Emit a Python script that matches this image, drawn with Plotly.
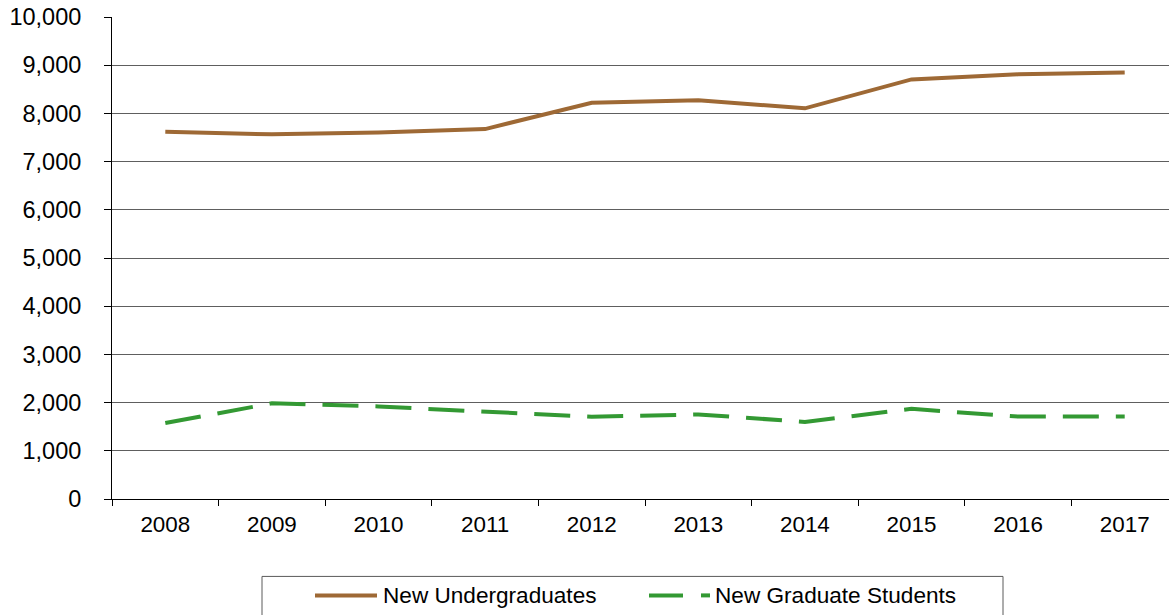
import plotly.graph_objects as go

# Fall enrollment of new students by year
years = ["2008", "2009", "2010", "2011", "2012", "2013", "2014", "2015", "2016", "2017"]
new_undergraduates = [7620, 7565, 7605, 7675, 8220, 8275, 8105, 8705, 8810, 8850]
new_graduate_students = [1575, 1985, 1920, 1810, 1705, 1755, 1600, 1870, 1710, 1710]

y_ticks = [0, 1000, 2000, 3000, 4000, 5000, 6000, 7000, 8000, 9000, 10000]
y_tick_labels = ["0", "1,000", "2,000", "3,000", "4,000", "5,000",
                 "6,000", "7,000", "8,000", "9,000", "10,000"]

UG_COLOR = "#9E6935"
GR_COLOR = "#339933"
FONT = "Liberation Sans, Arial, sans-serif"

W, H = 1169, 615
L, T, B = 112, 17, 115.5
plot_w = W - L
plot_h = H - T - B


def px_x(x):
    """Pixel column -> paper x."""
    return (x - L) / plot_w


def px_y(y):
    """Pixel row -> paper y."""
    return (H - B - y) / plot_h


fig = go.Figure()
fig.add_trace(go.Scatter(
    x=years, y=new_undergraduates, mode="lines", name="New Undergraduates",
    line=dict(color=UG_COLOR, width=4), showlegend=False,
))
fig.add_trace(go.Scatter(
    x=years, y=new_graduate_students, mode="lines", name="New Graduate Students",
    line=dict(color=GR_COLOR, width=4, dash="36px,17px"), showlegend=False,
))

# Legend drawn as a framed strip below the axis
shapes = [
    dict(type="rect", xref="paper", yref="paper",
         x0=px_x(262), x1=px_x(1003), y0=px_y(625), y1=px_y(577),
         line=dict(color="#5a5a5a", width=1), fillcolor="rgba(0,0,0,0)"),
    dict(type="line", xref="paper", yref="paper",
         x0=px_x(315), x1=px_x(377), y0=px_y(596), y1=px_y(596),
         line=dict(color=UG_COLOR, width=4)),
    dict(type="line", xref="paper", yref="paper",
         x0=px_x(649), x1=px_x(683), y0=px_y(596), y1=px_y(596),
         line=dict(color=GR_COLOR, width=4)),
    dict(type="line", xref="paper", yref="paper",
         x0=px_x(701), x1=px_x(710), y0=px_y(596), y1=px_y(596),
         line=dict(color=GR_COLOR, width=4)),
]
annotations = [
    dict(text="New Undergraduates", xref="paper", yref="paper",
         x=px_x(381), y=px_y(596), xanchor="left", yanchor="middle",
         showarrow=False, font=dict(family=FONT, size=22.6, color="#000")),
    dict(text="New Graduate Students", xref="paper", yref="paper",
         x=px_x(713), y=px_y(596), xanchor="left", yanchor="middle",
         showarrow=False, font=dict(family=FONT, size=22.6, color="#000")),
]

fig.update_layout(
    width=W, height=H,
    margin=dict(l=L, r=0, t=T, b=B, pad=0),
    paper_bgcolor="white", plot_bgcolor="white",
    font=dict(family=FONT, size=22, color="#000"),
    shapes=shapes, annotations=annotations,
    showlegend=False,
)
fig.update_xaxes(
    type="category", range=[-0.5, -0.5 + plot_w / 106.6],
    showline=True, linecolor="#000", linewidth=1,
    ticks="outside", tickson="boundaries", ticklen=6, tickcolor="#000",
    tickfont=dict(size=22.4),
    showgrid=False, zeroline=False, ticklabelstandoff=5,
)
fig.update_yaxes(
    range=[0, 10000], tickvals=y_ticks, ticktext=y_tick_labels,
    showline=True, linecolor="#000", linewidth=1,
    ticks="outside", ticklen=7, tickcolor="#000",
    tickfont=dict(size=23.5),
    showgrid=True, gridcolor="#5e5e5e", gridwidth=1, zeroline=False,
    ticklabelstandoff=18,
)

fig.write_html("out.html")
